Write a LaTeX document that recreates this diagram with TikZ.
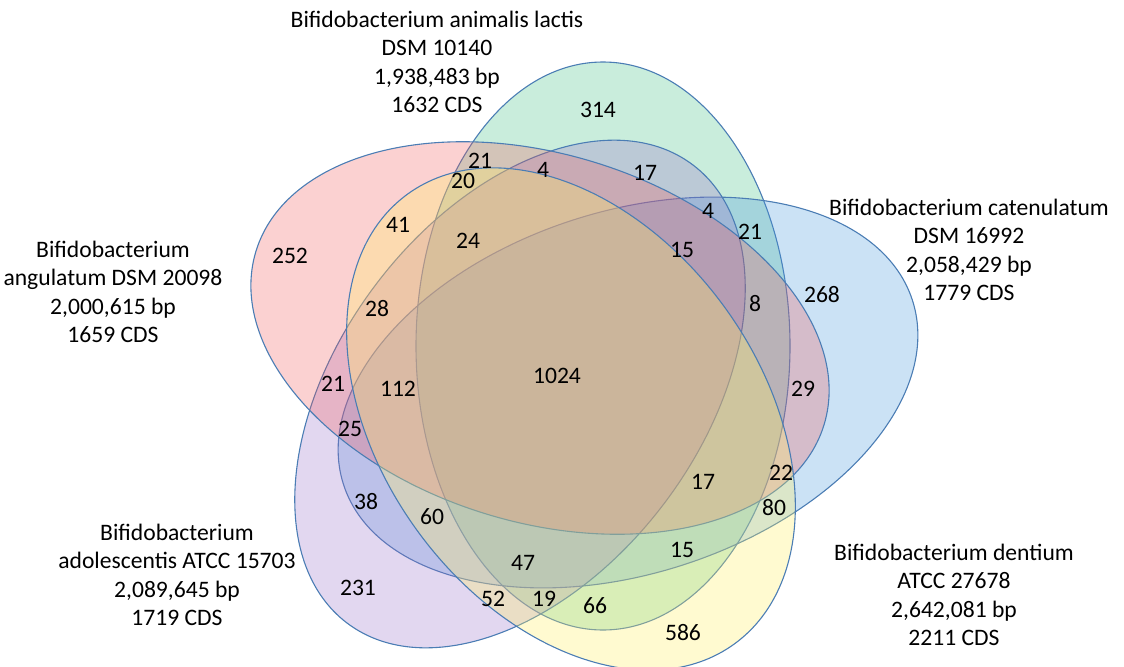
\documentclass[tikz,border=0pt]{standalone}
\usepackage{fontspec}
\setmainfont{Carlito}
\usepackage{xcolor}
\usepackage{tikz}

\definecolor{setedge}{RGB}{75,125,180}
\definecolor{lactisfill}{RGB}{60,190,130}
\definecolor{catenfill}{RGB}{70,150,220}
\definecolor{adolfill}{RGB}{150,110,200}
\definecolor{angulfill}{RGB}{240,90,90}
\definecolor{dentfill}{RGB}{255,240,100}

\begin{document}
\begin{tikzpicture}[x=0.5pt, y=0.5pt, every node/.style={font=\fontsize{11.8}{14.25}\selectfont, align=center, inner sep=0pt}]
            \useasboundingbox (0,0) rectangle (1124,666);
            % Sets
            \filldraw[draw=setedge, line width=0.55pt, fill=lactisfill, fill opacity=0.28] (603,320) ellipse [x radius=187, y radius=284];
            \filldraw[draw=setedge, line width=0.55pt, fill=catenfill, fill opacity=0.28, rotate around={18:(628,273.5)}] (628,273.5) ellipse [x radius=299, y radius=181];
            \filldraw[draw=setedge, line width=0.55pt, fill=adolfill, fill opacity=0.28, rotate around={53:(520,272)}] (520,272) ellipse [x radius=287, y radius=181];
            \filldraw[draw=setedge, line width=0.55pt, fill=angulfill, fill opacity=0.28, rotate around={-17:(540,328)}] (540,328) ellipse [x radius=297, y radius=184];
            \filldraw[draw=setedge, line width=0.55pt, fill=dentfill, fill opacity=0.3, rotate around={-54:(571,247)}] (571,247) ellipse [x radius=278, y radius=190];
            % Strains
            \node (lactis) at (437,604) {Bifidobacterium animalis lactis\\DSM 10140\\1,938,483 bp\\1632 CDS};
            \node (angul) at (113,374) {Bifidobacterium\\angulatum DSM 20098\\2,000,615 bp\\1659 CDS};
            \node (caten) at (969,416) {Bifidobacterium catenulatum\\DSM 16992\\2,058,429 bp\\1779 CDS};
            \node (adol) at (177,91) {Bifidobacterium\\adolescentis ATCC 15703\\2,089,645 bp\\1719 CDS};
            \node (dent) at (954,71) {Bifidobacterium dentium\\ATCC 27678\\2,642,081 bp\\2211 CDS};
            % Counts
            \node (n314) at (598,556) {314};
            \node (n21a) at (480,505) {21};
            \node (n20) at (463,485) {20};
            \node (n4a) at (543,496) {4};
            \node (n17a) at (645,493) {17};
            \node (n4b) at (708,455) {4};
            \node (n21b) at (750,434) {21};
            \node (n15a) at (682,416) {15};
            \node (n8) at (755,362) {8};
            \node (n268) at (822,371) {268};
            \node (n41) at (398,441) {41};
            \node (n24) at (468,425) {24};
            \node (n252) at (290,410) {252};
            \node (n28) at (377,357) {28};
            \node (n21c) at (333,282) {21};
            \node (n112) at (398,277) {112};
            \node (n1024) at (557,290) {1024};
            \node (n25) at (350,237) {25};
            \node (n29) at (803,277) {29};
            \node (n38) at (366,164) {38};
            \node (n60) at (432,149) {60};
            \node (n17b) at (703,184) {17};
            \node (n22) at (781,193) {22};
            \node (n80) at (774,158) {80};
            \node (n15b) at (682,116) {15};
            \node (n47) at (523,103) {47};
            \node (n231) at (358,78) {231};
            \node (n52) at (493,67) {52};
            \node (n19) at (544,67) {19};
            \node (n66) at (595,60) {66};
            \node (n586) at (683,33) {586};
        \end{tikzpicture}
\end{document}
